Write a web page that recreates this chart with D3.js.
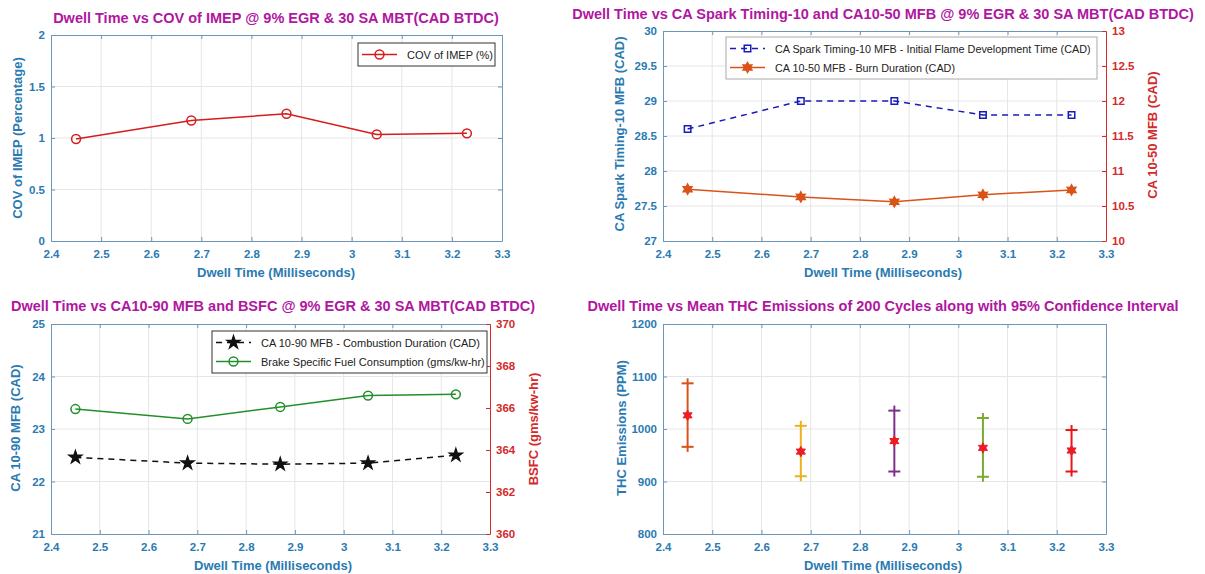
<!DOCTYPE html>
<html>
<head>
<meta charset="utf-8">
<script src="https://cdn.jsdelivr.net/npm/d3@7"></script>
<style>
  body { margin: 0; background: #fff; }
  svg text { font-family: "Liberation Sans", Arial, sans-serif; }
</style>
</head>
<body>
<script>
// Dwell time values (ms) shared by all four plots
var dwell = [2.45, 2.68, 2.87, 3.05, 3.23];
var dwellTicks = [2.4, 2.5, 2.6, 2.7, 2.8, 2.9, 3, 3.1, 3.2, 3.3];

// Plot 1: COV of IMEP
var covImep = [0.99, 1.17, 1.235, 1.035, 1.045];
var covTicks = [0, 0.5, 1, 1.5, 2];

// Plot 2: spark timing-10 MFB and CA 10-50 MFB
var spark10 = [28.6, 29.0, 29.0, 28.8, 28.8];
var spark10Ticks = [27, 27.5, 28, 28.5, 29, 29.5, 30];
var ca1050 = [10.74, 10.63, 10.56, 10.66, 10.73];
var ca1050Ticks = [10, 10.5, 11, 11.5, 12, 12.5, 13];

// Plot 3: CA 10-90 MFB and BSFC
var ca1090 = [22.46, 22.35, 22.33, 22.35, 22.5];
var ca1090Ticks = [21, 22, 23, 24, 25];
var bsfc = [365.95, 365.48, 366.05, 366.59, 366.65];
var bsfcTicks = [360, 362, 364, 366, 368, 370];

// Plot 4: mean THC with 95% confidence interval
var thcMean = [1026, 957, 977, 964, 959];
var thcUpper = [1087, 1006, 1035, 1021, 998];
var thcLower = [966, 910, 919, 909, 919];
var thcTicks = [800, 900, 1000, 1100, 1200];
var thcColors = ["#d95319", "#edb120", "#7e2f8e", "#77ac30", "#e8141b"];

var titleColor = "#b0179f";
var axisColor = "#2a7ab2";
var frameColor = "#6c97ba";
var rightColor = "#d42a2a";

var svg = d3.select("body").append("svg")
  .attr("width", 1205)
  .attr("height", 574);

var fmt = function(d) { return String(+d.toFixed(2)); };

// six pointed star like MATLAB's hexagram marker
var hexagram = {
  draw: function(ctx, size) {
    var r = Math.sqrt(size / 2.6), ri = r * 0.55;
    for (var i = 0; i < 12; i++) {
      var a = i * Math.PI / 6 - Math.PI / 2;
      var rr = i % 2 ? ri : r;
      if (i === 0) ctx.moveTo(rr * Math.cos(a), rr * Math.sin(a));
      else ctx.lineTo(rr * Math.cos(a), rr * Math.sin(a));
    }
    ctx.closePath();
  }
};

function styleAxis(sel, color, showLabels) {
  sel.selectAll(".domain").attr("stroke", frameColor).attr("stroke-width", 1);
  sel.selectAll(".tick line").attr("stroke", frameColor);
  sel.selectAll("text")
    .attr("fill", color)
    .style("font-size", "11.5px")
    .style("font-weight", "bold")
    .style("display", showLabels ? null : "none");
}

// draws frame, grid, ticks and labels of one MATLAB style plot
function makePanel(box, yDomain, yTicks, rDomain, rTicks) {
  var g = svg.append("g");
  var x = d3.scaleLinear().domain([2.4, 3.3]).range([box.left, box.right]);
  var y = d3.scaleLinear().domain(yDomain).range([box.bottom, box.top]);
  var yR = rDomain ? d3.scaleLinear().domain(rDomain).range([box.bottom, box.top]) : null;

  g.append("g").selectAll("line")
    .data(dwellTicks.slice(1, -1))
    .join("line")
    .attr("x1", d => x(d)).attr("x2", d => x(d))
    .attr("y1", box.top).attr("y2", box.bottom)
    .attr("stroke", "#e6e6e6");
  g.append("g").selectAll("line")
    .data(yTicks.slice(1, -1))
    .join("line")
    .attr("x1", box.left).attr("x2", box.right)
    .attr("y1", d => y(d)).attr("y2", d => y(d))
    .attr("stroke", "#e6e6e6");

  g.append("g")
    .attr("transform", `translate(0,${box.bottom})`)
    .call(d3.axisBottom(x).tickValues(dwellTicks).tickFormat(fmt).tickSize(-4).tickSizeOuter(0).tickPadding(9))
    .call(styleAxis, axisColor, true);
  g.append("g")
    .attr("transform", `translate(0,${box.top})`)
    .call(d3.axisTop(x).tickValues(dwellTicks).tickSize(-4).tickSizeOuter(0))
    .call(styleAxis, axisColor, false);
  g.append("g")
    .attr("transform", `translate(${box.left},0)`)
    .call(d3.axisLeft(y).tickValues(yTicks).tickFormat(fmt).tickSize(-4).tickSizeOuter(0).tickPadding(6))
    .call(styleAxis, axisColor, true);

  var right = g.append("g").attr("transform", `translate(${box.right},0)`);
  if (yR) {
    right.call(d3.axisRight(yR).tickValues(rTicks).tickFormat(fmt).tickSize(-4).tickSizeOuter(0).tickPadding(6))
      .call(styleAxis, rightColor, true);
    right.selectAll(".domain, .tick line").attr("stroke", rightColor);
  } else {
    right.call(d3.axisRight(y).tickValues(yTicks).tickSize(-4).tickSizeOuter(0))
      .call(styleAxis, axisColor, false);
  }
  return { x: x, y: y, yR: yR, box: box };
}

function addTitle(text, cx, cy) {
  svg.append("text")
    .attr("x", cx).attr("y", cy)
    .attr("text-anchor", "middle")
    .attr("dominant-baseline", "central")
    .attr("fill", titleColor)
    .style("font-size", "14.5px")
    .style("font-weight", "bold")
    .text(text);
}

function addLabel(text, cx, cy, rotate, color) {
  svg.append("text")
    .attr("transform", `translate(${cx},${cy})` + (rotate ? " rotate(-90)" : ""))
    .attr("text-anchor", "middle")
    .attr("dominant-baseline", "central")
    .attr("fill", color || axisColor)
    .style("font-size", "13px")
    .style("font-weight", "bold")
    .text(text);
}

function addLine(p, values, scale, color, dash) {
  svg.append("path")
    .datum(values)
    .attr("fill", "none")
    .attr("stroke", color)
    .attr("stroke-width", 1.5)
    .attr("stroke-dasharray", dash || null)
    .attr("d", d3.line().x((d, i) => p.x(dwell[i])).y(d => scale(d)));
}

function addMarkers(p, values, scale, type, size, fill, stroke) {
  svg.append("g").selectAll("path")
    .data(values)
    .join("path")
    .attr("transform", (d, i) => `translate(${p.x(dwell[i])},${scale(d)})`)
    .attr("d", d3.symbol().type(type).size(size))
    .attr("fill", fill)
    .attr("stroke", stroke)
    .attr("stroke-width", 1.5);
}

function addLegend(x0, y0, w, rows, border) {
  var h = rows.length * 19 + 4;
  var lg = svg.append("g").attr("transform", `translate(${x0},${y0})`);
  lg.append("rect").attr("width", w).attr("height", h)
    .attr("fill", "#fff").attr("stroke", border);
  rows.forEach(function(r, i) {
    var cy = 11.5 + i * 19;
    lg.append("line").attr("x1", 4).attr("x2", 39).attr("y1", cy).attr("y2", cy)
      .attr("stroke", r.color).attr("stroke-width", 1.5).attr("stroke-dasharray", r.dash || null);
    lg.append("path").attr("transform", `translate(21.5,${cy})`)
      .attr("d", d3.symbol().type(r.type).size(r.size))
      .attr("fill", r.fill).attr("stroke", r.color).attr("stroke-width", 1.5);
    lg.append("text").attr("x", 49).attr("y", cy)
      .attr("dominant-baseline", "central")
      .attr("fill", "#222")
      .style("font-size", r.font || "11px")
      .text(r.label);
  });
}

// ---- Plot 1
var p1 = makePanel({ left: 51, right: 502, top: 35, bottom: 241 }, [0, 2], covTicks);
addLine(p1, covImep, p1.y, "#d61c1c");
addMarkers(p1, covImep, p1.y, d3.symbolCircle, 62, "none", "#d61c1c");
addLegend(358, 43, 137, [
  { label: "COV of IMEP (%)", color: "#d61c1c", type: d3.symbolCircle, size: 62, fill: "none" }
], "#333");
addTitle("Dwell Time vs COV of IMEP @ 9% EGR & 30 SA MBT(CAD BTDC)", 276, 18);
addLabel("Dwell Time (Milliseconds)", 276, 272);
addLabel("COV of IMEP (Percentage)", 17, 138, true);

// ---- Plot 2
var p2 = makePanel({ left: 663, right: 1106, top: 31, bottom: 241 }, [27, 30], spark10Ticks, [10, 13], ca1050Ticks);
addLine(p2, spark10, p2.y, "#1a1ab8", "6,5");
addMarkers(p2, spark10, p2.y, d3.symbolSquare, 42, "none", "#1a1ab8");
addLine(p2, ca1050, p2.yR, "#d95319");
addMarkers(p2, ca1050, p2.yR, hexagram, 65, "#d95319", "#d95319");
addLegend(726, 37, 371, [
  { label: "CA Spark Timing-10 MFB - Initial Flame Development Time (CAD)", color: "#1a1ab8", dash: "6,5", type: d3.symbolSquare, size: 42, fill: "none", font: "10.8px" },
  { label: "CA 10-50 MFB - Burn Duration (CAD)", color: "#d95319", type: hexagram, size: 65, fill: "#d95319", font: "10.8px" }
], "#aaa");
addTitle("Dwell Time vs CA Spark Timing-10 and CA10-50 MFB @ 9% EGR & 30 SA MBT(CAD BTDC)", 883, 14);
addLabel("Dwell Time (Milliseconds)", 883, 272);
addLabel("CA Spark Timing-10 MFB (CAD)", 619, 134, true);
addLabel("CA 10-50 MFB (CAD)", 1152, 135, true, rightColor);

// ---- Plot 3
var p3 = makePanel({ left: 51, right: 490, top: 324, bottom: 534 }, [21, 25], ca1090Ticks, [360, 370], bsfcTicks);
addLine(p3, ca1090, p3.y, "#111", "6,5");
addMarkers(p3, ca1090, p3.y, d3.symbolStar, 48, "#111", "#111");
addLine(p3, bsfc, p3.yR, "#21902a");
addMarkers(p3, bsfc, p3.yR, d3.symbolCircle, 62, "none", "#21902a");
addLegend(212, 331, 275, [
  { label: "CA 10-90 MFB - Combustion Duration (CAD)", color: "#111", dash: "6,5", type: d3.symbolStar, size: 48, fill: "#111" },
  { label: "Brake Specific Fuel Consumption (gms/kw-hr)", color: "#21902a", type: d3.symbolCircle, size: 62, fill: "none" }
], "#333");
addTitle("Dwell Time vs CA10-90 MFB and BSFC @ 9% EGR & 30 SA MBT(CAD BTDC)", 273, 306);
addLabel("Dwell Time (Milliseconds)", 273, 565);
addLabel("CA 10-90 MFB (CAD)", 15, 428, true);
addLabel("BSFC (gms/kw-hr)", 533, 429, true, rightColor);

// ---- Plot 4
var p4 = makePanel({ left: 663, right: 1106, top: 324, bottom: 534 }, [800, 1200], thcTicks);
var bars = svg.append("g").selectAll("g")
  .data(thcMean)
  .join("g")
  .attr("stroke", (d, i) => thcColors[i])
  .attr("stroke-width", 2);
bars.append("line")
  .attr("x1", (d, i) => p4.x(dwell[i])).attr("x2", (d, i) => p4.x(dwell[i]))
  .attr("y1", (d, i) => p4.y(thcUpper[i]) - 5).attr("y2", (d, i) => p4.y(thcLower[i]) + 5);
bars.append("line")
  .attr("x1", (d, i) => p4.x(dwell[i]) - 6).attr("x2", (d, i) => p4.x(dwell[i]) + 6)
  .attr("y1", (d, i) => p4.y(thcUpper[i])).attr("y2", (d, i) => p4.y(thcUpper[i]));
bars.append("line")
  .attr("x1", (d, i) => p4.x(dwell[i]) - 6).attr("x2", (d, i) => p4.x(dwell[i]) + 6)
  .attr("y1", (d, i) => p4.y(thcLower[i])).attr("y2", (d, i) => p4.y(thcLower[i]));
svg.append("g").selectAll("path")
  .data(thcMean)
  .join("path")
  .attr("transform", (d, i) => `translate(${p4.x(dwell[i])},${p4.y(d)})`)
  .attr("d", d3.symbol().type(hexagram).size(70))
  .attr("fill", "#ec1c24")
  .attr("stroke", "#ec1c24")
  .attr("stroke-width", 1);
addTitle("Dwell Time vs Mean THC Emissions of 200 Cycles along with 95% Confidence Interval", 883, 306);
addLabel("Dwell Time (Milliseconds)", 883, 565);
addLabel("THC Emissions (PPM)", 621, 428, true);
</script>
</body>
</html>
